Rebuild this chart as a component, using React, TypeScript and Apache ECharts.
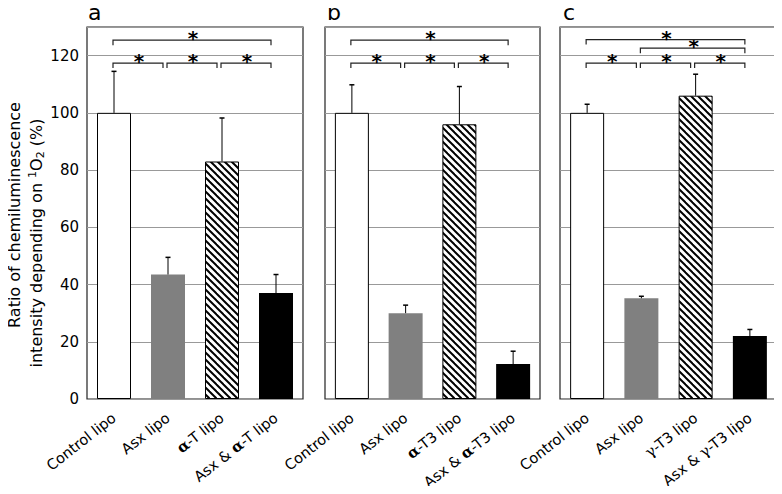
import React, { useEffect, useRef } from "react";
import * as echarts from "echarts";

// ---------- data ----------
const catsA = ["Control lipo", "Asx lipo", "{ab|α}-T lipo", "Asx & {ab|α}-T lipo"];
const catsB = ["Control lipo", "Asx lipo", "{ab|α}-T3 lipo", "Asx & {ab|α}-T3 lipo"];
const catsC = ["Control lipo", "Asx lipo", "{g|γ}-T3 lipo", "Asx & {g|γ}-T3 lipo"];

const valuesA = [100, 43.5, 83, 37];
const errorsA = [14.5, 6, 15.2, 6.5];
const valuesB = [100, 30, 96, 12.2];
const errorsB = [9.8, 2.8, 13.2, 4.5];
const valuesC = [100, 35.2, 106, 22];
const errorsC = [3, 0.7, 7.5, 2.3];

// brackets: [fromIndex, toIndex, level]
const bracketsA = [[0, 1, 117.4], [1, 2, 117.4], [2, 3, 117.4], [0, 3, 125.4]];
const bracketsB = [[0, 1, 117.4], [1, 2, 117.4], [2, 3, 117.4], [0, 3, 125.4]];
const bracketsC = [[0, 1, 117.4], [1, 2, 117.4], [2, 3, 117.4], [1, 3, 122.6], [0, 3, 125.6]];

const yTicks = [0, 20, 40, 60, 80, 100, 120];
const panelLetters = ["a", "b", "c"];

function makeHatch() {
  const s = 7;
  const c = document.createElement("canvas");
  c.width = s;
  c.height = s;
  const ctx = c.getContext("2d")!;
  ctx.fillStyle = "#fff";
  ctx.fillRect(0, 0, s, s);
  ctx.strokeStyle = "#000";
  ctx.lineWidth = 2;
  for (let k = -1; k <= 1; k++) {
    ctx.beginPath();
    ctx.moveTo(-1, k * s - 1);
    ctx.lineTo(s + 1, s + k * s + 1);
    ctx.stroke();
  }
  return c;
}

export default function App() {
  const ref = useRef<HTMLDivElement>(null);
  useEffect(() => {
    if (!ref.current) return;
    const chart = echarts.init(ref.current, null, { renderer: "svg" });
    const hatch = { image: makeHatch(), repeat: "repeat", imageWidth: 7, imageHeight: 7 } as any;
    const fills: any[] = [
      { color: "#fff", borderColor: "#000", borderWidth: 1 },
      { color: "#808080", borderWidth: 0 },
      { color: hatch, borderColor: "#000", borderWidth: 1 },
      { color: "#000", borderWidth: 0 },
    ];
    const grids = [
      { left: 87, width: 216 },
      { left: 325, width: 215 },
      { left: 560, width: 217 },
    ];
    const cats = [catsA, catsB, catsC];
    const vals = [valuesA, valuesB, valuesC];
    const errs = [errorsA, errorsB, errorsC];
    const brs = [bracketsA, bracketsB, bracketsC];
    const font = "DejaVu Sans";

    const series: any[] = [];
    vals.forEach((v, gi) => {
      series.push({
        type: "bar",
        xAxisIndex: gi,
        yAxisIndex: gi,
        barWidth: 34,
        data: v.map((y, i) => ({ value: y, itemStyle: fills[i] })),
        z: 2,
      });
      series.push({
        type: "custom",
        xAxisIndex: gi,
        yAxisIndex: gi,
        z: 3,
        itemStyle: { color: "#000" },
        encode: { x: 0, y: 1 },
        data: v.map((y, i) => [i, y, errs[gi][i]]),
        renderItem: (params: any, api: any) => {
          const p0 = api.coord([api.value(0), api.value(1)]);
          const p1 = api.coord([api.value(0), api.value(1) + api.value(2)]);
          return {
            type: "group",
            children: [
              { type: "line", shape: { x1: p0[0], y1: p0[1], x2: p1[0], y2: p1[1] }, style: { stroke: "#000", lineWidth: 1 } },
              { type: "line", shape: { x1: p1[0] - 2.5, y1: p1[1], x2: p1[0] + 2.5, y2: p1[1] }, style: { stroke: "#000", lineWidth: 1.5 } },
            ],
          };
        },
      });
      series.push({
        type: "custom",
        xAxisIndex: gi,
        yAxisIndex: gi,
        z: 4,
        itemStyle: { color: "#000" },
        encode: { x: [0, 1], y: 2 },
        data: brs[gi],
        renderItem: (params: any, api: any) => {
          const a = api.coord([api.value(0), api.value(2)]);
          const b = api.coord([api.value(1), api.value(2)]);
          const x1 = a[0] - 1;
          const x2 = b[0] - 5;
          const y = a[1];
          return {
            type: "group",
            children: [
              {
                type: "polyline",
                shape: { points: [[x1, y + 5], [x1, y], [x2, y], [x2, y + 5]] },
                style: { stroke: "#222", lineWidth: 1.2, fill: null },
              },
              {
                type: "text",
                x: (x1 + x2) / 2 + 1,
                y: y - 2,
                style: {
                  text: "*",
                  fontSize: 20,
                  fontWeight: "bold",
                  fontFamily: font,
                  fill: "#000",
                  textFill: "#000",
                  align: "center",
                  verticalAlign: "middle",
                },
              },
            ],
          };
        },
      });
    });

    const rich = {
      ab: { fontFamily: "DejaVu Serif", fontWeight: "bold", fontSize: 15, color: "#000" },
      g: { fontFamily: "DejaVu Serif", fontSize: 15, color: "#000" },
    };

    const option: any = {
      animation: false,
      grid: grids.map((g) => ({
        left: g.left,
        width: g.width,
        top: 27,
        bottom: 95,
        show: true,
        borderColor: "#222",
        borderWidth: 1.2,
        backgroundColor: "transparent",
      })),
      xAxis: cats.map((c, gi) => ({
        type: "category",
        gridIndex: gi,
        data: c,
        axisLine: { show: false },
        axisTick: { show: false },
        axisLabel: {
          interval: 0,
          rotate: 38,
          margin: 17,
          fontSize: 14.5,
          fontFamily: font,
          color: "#000",
          rich,
        },
      })),
      yAxis: cats.map((c, gi) => ({
        type: "value",
        gridIndex: gi,
        min: 0,
        max: 130,
        interval: 20,
        axisLine: { show: false },
        axisTick: { show: false },
        splitLine: { show: true, lineStyle: { color: "#999", width: 1 } },
        axisLabel: {
          show: gi === 0,
          showMaxLabel: false,
          margin: 8,
          fontSize: 15,
          fontFamily: font,
          color: "#000",
          formatter: (v: number) => (yTicks.indexOf(v) >= 0 ? String(v) : ""),
        },
      })),
      series,
      graphic: [
        ...panelLetters.map((t, i) => ({
          type: "text",
          x: [88, 327, 563][i],
          y: 12.5,
          style: { text: t, font: `22px '${font}'`, fill: "#000", align: "left", verticalAlign: "middle" },
        })),
        {
          type: "text",
          x: 14,
          y: 215,
          rotation: Math.PI / 2,
          style: { text: "Ratio of chemiluminescence", font: `16px '${font}'`, fill: "#000", align: "center", verticalAlign: "middle" },
        },
        {
          type: "text",
          x: 36,
          y: 243,
          rotation: Math.PI / 2,
          style: {
            text: "intensity depending on {sup|1}O{sub|2} (%)",
            font: `16px '${font}'`,
            fill: "#000",
            align: "center",
            verticalAlign: "middle",
            rich: {
              sup: { fontSize: 11, fontFamily: font, verticalAlign: "top", padding: [0, 0, 8, 0] },
              sub: { fontSize: 11, fontFamily: font, verticalAlign: "bottom", padding: [8, 0, 0, 0] },
            },
          },
        },
      ],
    };
    chart.setOption(option);
    return () => chart.dispose();
  }, []);
  return <div ref={ref} style={{ width: 782, height: 494, margin: -8 }} />;
}
